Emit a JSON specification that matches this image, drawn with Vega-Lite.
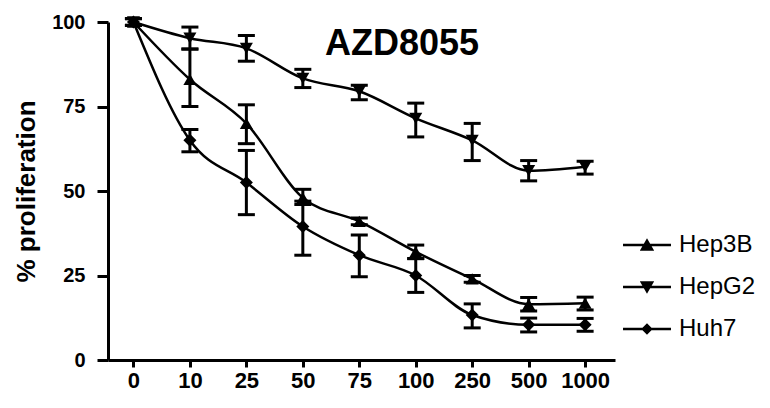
{
  "$schema": "https://vega.github.io/schema/vega-lite/v6.json",
  "autosize": {"type": "none"},
  "width": 507,
  "height": 338,
  "padding": {"left": 108, "top": 22, "right": 155, "bottom": 48},
  "background": "white",
  "title": {
    "text": "AZD8055",
    "font": "Liberation Sans",
    "fontSize": 36,
    "fontWeight": "bold",
    "color": "black",
    "orient": "none",
    "anchor": "middle",
    "frame": "group",
    "baseline": "alphabetic",
    "dx": 294,
    "dy": 33
  },
  "data": {
    "values": [
      {"series": "Hep3B", "dose": "0", "mean": 100, "lo": 99, "hi": 101},
      {"series": "Hep3B", "dose": "10", "mean": 83, "lo": 75, "hi": 92},
      {"series": "Hep3B", "dose": "25", "mean": 70, "lo": 64, "hi": 75.5},
      {"series": "Hep3B", "dose": "50", "mean": 48, "lo": 46, "hi": 50.5},
      {"series": "Hep3B", "dose": "75", "mean": 41, "lo": 40, "hi": 42},
      {"series": "Hep3B", "dose": "100", "mean": 32, "lo": 30, "hi": 34},
      {"series": "Hep3B", "dose": "250", "mean": 24, "lo": 23, "hi": 25},
      {"series": "Hep3B", "dose": "500", "mean": 16.5, "lo": 14.5, "hi": 18.5},
      {"series": "Hep3B", "dose": "1000", "mean": 16.8, "lo": 14.8, "hi": 18.6},
      {"series": "HepG2", "dose": "0", "mean": 100, "lo": 99, "hi": 101},
      {"series": "HepG2", "dose": "10", "mean": 95.2, "lo": 92, "hi": 98.5},
      {"series": "HepG2", "dose": "25", "mean": 92.2, "lo": 88.4, "hi": 96},
      {"series": "HepG2", "dose": "50", "mean": 83.3, "lo": 80.6, "hi": 86},
      {"series": "HepG2", "dose": "75", "mean": 79.5, "lo": 77, "hi": 81.3},
      {"series": "HepG2", "dose": "100", "mean": 71.5, "lo": 66, "hi": 76},
      {"series": "HepG2", "dose": "250", "mean": 65, "lo": 59, "hi": 70},
      {"series": "HepG2", "dose": "500", "mean": 56, "lo": 53, "hi": 59},
      {"series": "HepG2", "dose": "1000", "mean": 57.2, "lo": 55, "hi": 58.8},
      {"series": "Huh7", "dose": "0", "mean": 100, "lo": 99, "hi": 101},
      {"series": "Huh7", "dose": "10", "mean": 65, "lo": 61.6, "hi": 68.2},
      {"series": "Huh7", "dose": "25", "mean": 52.5, "lo": 43, "hi": 62},
      {"series": "Huh7", "dose": "50", "mean": 39.5, "lo": 31, "hi": 47},
      {"series": "Huh7", "dose": "75", "mean": 31, "lo": 24.6, "hi": 37},
      {"series": "Huh7", "dose": "100", "mean": 25, "lo": 20, "hi": 30},
      {"series": "Huh7", "dose": "250", "mean": 13.3, "lo": 9.5, "hi": 16.6},
      {"series": "Huh7", "dose": "500", "mean": 10.4, "lo": 8.3, "hi": 12.4},
      {"series": "Huh7", "dose": "1000", "mean": 10.4, "lo": 8.5, "hi": 12.3}
    ]
  },
  "encoding": {
    "x": {
      "field": "dose",
      "type": "ordinal",
      "scale": {"type": "point", "domain": ["0", "10", "25", "50", "75", "100", "250", "500", "1000"], "padding": 0.49, "align": 0.46},
      "axis": {
        "title": null,
        "labelAngle": 0,
        "labelFont": "Liberation Sans",
        "labelFontSize": 22,
        "labelFontWeight": "bold",
        "labelColor": "black",
        "labelPadding": 3,
        "domainColor": "black",
        "domainWidth": 3,
        "tickColor": "black",
        "tickWidth": 3,
        "tickSize": 7,
        "grid": false
      }
    }
  },
  "layer": [
    {
      "mark": {"type": "line", "color": "black", "strokeWidth": 2.5, "interpolate": "monotone"},
      "encoding": {
        "y": {
          "field": "mean",
          "type": "quantitative",
          "scale": {"domain": [0, 100], "nice": false},
          "axis": {
            "title": "% proliferation",
            "titleFont": "Liberation Sans",
            "titleFontSize": 26,
            "titleFontWeight": "bold",
            "titleColor": "black",
            "titlePadding": 12,
            "values": [0, 25, 50, 75, 100],
            "labelFont": "Liberation Sans",
            "labelFontSize": 20,
            "labelFontWeight": "bold",
            "labelColor": "black",
            "labelPadding": 12,
            "domainColor": "black",
            "domainWidth": 3,
            "tickColor": "black",
            "tickWidth": 3,
            "tickSize": 11,
            "grid": false
          }
        },
        "detail": {"field": "series", "type": "nominal"}
      }
    },
    {
      "mark": {"type": "rule", "color": "black", "strokeWidth": 3},
      "encoding": {
        "y": {"field": "lo", "type": "quantitative"},
        "y2": {"field": "hi"}
      }
    },
    {
      "mark": {"type": "tick", "color": "black", "thickness": 3, "size": 17, "opacity": 1},
      "encoding": {"y": {"field": "lo", "type": "quantitative"}}
    },
    {
      "mark": {"type": "tick", "color": "black", "thickness": 3, "size": 17, "opacity": 1},
      "encoding": {"y": {"field": "hi", "type": "quantitative"}}
    },
    {
      "mark": {"type": "point", "filled": true, "color": "black", "size": 170, "opacity": 1},
      "encoding": {
        "y": {"field": "mean", "type": "quantitative"},
        "shape": {
          "field": "series",
          "type": "nominal",
          "scale": {"domain": ["Hep3B", "HepG2", "Huh7"], "range": ["triangle-up", "triangle-down", "diamond"]},
          "legend": null
        }
      }
    },
    {
      "transform": [{"filter": "datum.series === 'none'"}],
      "mark": {"type": "point", "filled": true, "color": "black", "size": 2300, "opacity": 1},
      "encoding": {
        "y": {"field": "mean", "type": "quantitative"},
        "shape": {
          "field": "series",
          "type": "nominal",
          "scale": {"domain": ["Hep3B", "HepG2", "Huh7"], "range": ["M-1,-0.05H1V0.05H-1Z M-0.3,0.24L0,-0.28L0.3,0.24Z", "M-1,-0.05H1V0.05H-1Z M-0.3,-0.24L0.3,-0.24L0,0.28Z", "M-1,-0.05H1V0.05H-1Z M-0.24,0L0,-0.24L0.24,0L0,0.24Z"]},
          "legend": {
            "title": null,
            "orient": "none",
            "legendX": 515,
            "legendY": 199,
            "symbolSize": 2300,
            "symbolFillColor": "black",
            "symbolStrokeWidth": 0,
            "symbolOpacity": 1,
            "labelFont": "Liberation Sans",
            "labelFontSize": 24,
            "labelColor": "black",
            "labelOffset": 8,
            "rowPadding": 6
          }
        }
      }
    }
  ],
  "resolve": {"scale": {"shape": "independent"}},
  "config": {
    "view": {"stroke": null},
    "font": "Liberation Sans"
  }
}
